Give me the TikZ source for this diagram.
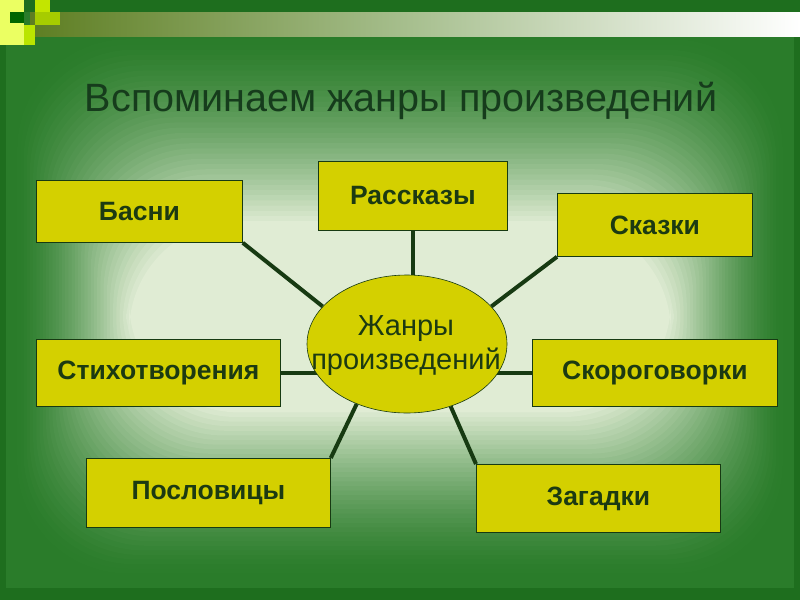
\documentclass[tikz,border=0pt]{standalone}
\usepackage{fontspec}
\setmainfont{Liberation Sans}
\usetikzlibrary{shapes.geometric}
\definecolor{bgedge}{HTML}{2A7C2A}
\definecolor{bgdark}{HTML}{1E6E1E}
\definecolor{bgpale}{HTML}{E0ECD4}
\definecolor{boxfill}{HTML}{D4D000}
\definecolor{boxtext}{HTML}{1C3A12}
\definecolor{linecol}{HTML}{173A12}
\definecolor{titlecol}{HTML}{163C1C}
\definecolor{barleft}{HTML}{5E7E22}
\definecolor{barmid}{HTML}{A8C090}
\pgfdeclarelayer{back}
\pgfdeclarelayer{lines}
\pgfsetlayers{back,lines,main}
\tikzset{
  genre/.style={draw=linecol, line width=0.8pt, fill=boxfill, text=boxtext,
    font=\bfseries\fontsize{26.5}{28}\selectfont, inner sep=0pt, anchor=north west},
  link/.style={draw=linecol, line width=4pt},
}
\begin{document}
\begin{tikzpicture}[x=1pt,y=-1pt]
\useasboundingbox (0,0) rectangle (800,600);
\begin{pgfonlayer}{back}
\fill[bgdark] (0,0) rectangle (800,600);
\fill[bgedge] (6,12) rectangle (794,588);
\foreach \i in {0,...,36}{
  \pgfmathsetmacro\p{100*(1-(\i/36)^1.5)}
  \fill[color=bgedge!\p!bgpale, rounded corners=110pt]
    ({14+\i*3.2},{34+\i*5.2}) rectangle ({786-\i*3.2},{578-\i*4.6});
}
\fill[bgdark] (0,0) rectangle (800,12);
% top bar
\shade[left color=barleft, right color=white, middle color=barmid] (30,12) rectangle (800,36);
% top-left squares
\fill[white!55!lime!70!yellow] (0,0) rectangle (24,45);
\fill[green!40!black] (10,12) rectangle (24,23);
\fill[lime!60!yellow!90!black] (35,0) rectangle (50,12);
\fill[lime!60!olive] (35,12) rectangle (60,25);
\fill[lime!75!yellow!90!black] (24,25) rectangle (35,45);
\end{pgfonlayer}
% title
\node[text=titlecol, font=\fontsize{39.5}{42}\selectfont] (title) at (401,101) {Вспоминаем жанры произведений};
% center ellipse and its text
\node[ellipse, draw=linecol, line width=0.6pt, fill=boxfill,
  minimum width=200pt, minimum height=138pt, inner sep=0pt] (center) at (407,344) {};
\node[text=boxtext, align=center, inner sep=0pt,
  font=\fontsize{29}{34}\selectfont] (centertext) at (406,346) {Жанры\\произведений};
% boxes
\node[genre, minimum width=206pt, minimum height=62pt] (basni) at (36,180) {Басни};
\node[genre, minimum width=189pt, minimum height=69pt] (rasskazy) at (318,161) {Рассказы};
\node[genre, minimum width=195pt, minimum height=63pt] (skazki) at (557,193) {Сказки};
\node[genre, minimum width=244pt, minimum height=67pt] (stikhi) at (36,339) {Стихотворения};
\node[genre, minimum width=245pt, minimum height=67pt] (skorog) at (532,339) {Скороговорки};
\node[genre, minimum width=244pt, minimum height=69pt] (poslov) at (86,458) {Пословицы};
\node[genre, minimum width=244pt, minimum height=68pt] (zagadki) at (476,464) {Загадки};
% connectors (behind the ellipse)
\begin{pgfonlayer}{lines}
\draw[link] (basni.south east) -- (center.156);
\draw[link] (rasskazy.south) -- (rasskazy.south |- center.center);
\draw[link] (skazki.south west) -- (center.24);
\draw[link] (stikhi.east) -- (stikhi.east -| center.center);
\draw[link] (skorog.west) -- (skorog.west -| center.center);
\draw[link] (poslov.north east) -- (center.230);
\draw[link] (zagadki.north west) -- (center.305);
\end{pgfonlayer}
\end{tikzpicture}
\end{document}
